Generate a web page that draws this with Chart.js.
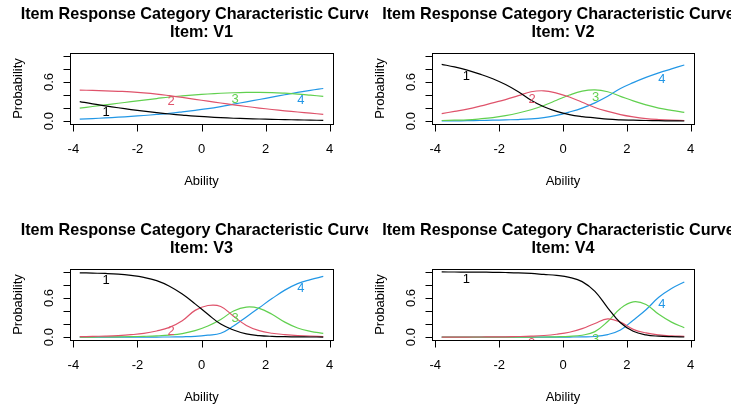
<!DOCTYPE html>
<html><head><meta charset="utf-8">
<script src="https://cdn.jsdelivr.net/npm/chart.js@4"></script>
<style>
html,body{margin:0;padding:0;background:#fff;width:731px;height:409px;overflow:hidden}
body{position:relative}
canvas{position:absolute}
</style></head>
<body>
<canvas id="c1" width="368" height="204" style="left:0px;top:0px"></canvas>
<canvas id="c2" width="366" height="204" style="left:365px;top:0px"></canvas>
<canvas id="c3" width="368" height="205" style="left:0px;top:204px"></canvas>
<canvas id="c4" width="366" height="205" style="left:365px;top:204px"></canvas>
<script>
// ---- data ----
const abilityGrid = [-3.8,-3.4,-3.0,-2.6,-2.2,-1.8,-1.4,-1.0,-0.6,-0.2,0.2,0.6,1.0,1.4,1.8,2.2,2.6,3.0,3.4,3.8];
const xTickValues = [-4,-2,0,2,4];
const xTickLabels = ['-4','-2','0','2','4'];
const yTickValues = [0,0.2,0.4,0.6,0.8,1.0];
const yTickLabels = ['0.0','','','0.6','',''];
const categories = ['1','2','3','4'];
const itemNames = ['V1','V2','V3','V4'];
const mainTitle = 'Item Response Category Characteristic Curves';
const xAxisTitle = 'Ability';
const yAxisTitle = 'Probability';

const v1Cat1 = [0.30,0.265,0.235,0.205,0.178,0.153,0.13,0.11,0.093,0.077,0.065,0.054,0.045,0.039,0.033,0.028,0.024,0.02,0.016,0.013];
const v1Cat2 = [0.475,0.471,0.465,0.457,0.448,0.434,0.415,0.39,0.363,0.335,0.306,0.278,0.25,0.225,0.201,0.179,0.159,0.14,0.122,0.105];
const v1Cat3 = [0.20,0.225,0.25,0.274,0.298,0.322,0.346,0.37,0.388,0.403,0.416,0.427,0.435,0.44,0.442,0.438,0.428,0.415,0.398,0.38];
const v1Cat4 = [0.03,0.04,0.05,0.061,0.073,0.087,0.103,0.12,0.142,0.166,0.192,0.224,0.26,0.296,0.332,0.368,0.404,0.44,0.472,0.50];

const v2Cat1 = [0.87,0.83,0.78,0.72,0.65,0.56,0.45,0.32,0.22,0.15,0.10,0.07,0.05,0.03,0.02,0.015,0.01,0.007,0.005,0.003];
const v2Cat2 = [0.115,0.15,0.185,0.23,0.28,0.33,0.39,0.45,0.465,0.43,0.37,0.29,0.21,0.15,0.10,0.065,0.04,0.025,0.015,0.01];
const v2Cat3 = [0.01,0.015,0.02,0.035,0.055,0.085,0.125,0.175,0.24,0.32,0.40,0.46,0.48,0.45,0.38,0.31,0.25,0.20,0.165,0.135];
const v2Cat4 = [0.003,0.005,0.007,0.01,0.015,0.02,0.025,0.035,0.055,0.09,0.14,0.20,0.28,0.38,0.50,0.59,0.67,0.74,0.80,0.86];

const v3Cat1 = [0.985,0.98,0.975,0.965,0.945,0.915,0.865,0.78,0.66,0.51,0.35,0.20,0.11,0.05,0.025,0.013,0.007,0.004,0.003,0.002];
const v3Cat2 = [0.008,0.012,0.017,0.025,0.038,0.058,0.095,0.15,0.25,0.41,0.485,0.47,0.32,0.18,0.10,0.06,0.04,0.025,0.015,0.01];
const v3Cat3 = [0.001,0.002,0.003,0.005,0.008,0.013,0.02,0.032,0.055,0.10,0.17,0.27,0.40,0.46,0.44,0.35,0.23,0.14,0.09,0.058];
const v3Cat4 = [0,0,0,0,0.001,0.001,0.002,0.003,0.006,0.012,0.03,0.06,0.17,0.31,0.45,0.59,0.72,0.82,0.88,0.93];

const v4Cat1 = [0.998,0.997,0.996,0.995,0.993,0.99,0.985,0.975,0.96,0.945,0.915,0.85,0.70,0.45,0.22,0.09,0.035,0.015,0.007,0.003];
const v4Cat2 = [0.001,0.001,0.002,0.003,0.004,0.006,0.01,0.016,0.026,0.045,0.075,0.13,0.21,0.28,0.23,0.12,0.065,0.035,0.02,0.012];
const v4Cat3 = [0,0,0,0,0,0,0.001,0.002,0.003,0.006,0.012,0.03,0.085,0.24,0.44,0.54,0.50,0.35,0.23,0.145];
const v4Cat4 = [0,0,0,0,0,0,0,0,0,0.001,0.002,0.004,0.01,0.04,0.11,0.26,0.42,0.61,0.745,0.845];

// category label positions (ability, probability)
const v1LabelX = [-2.98,-0.95,1.05,3.1];  const v1LabelY = [0.13,0.30,0.335,0.325];
const v2LabelX = [-3.03,-0.97,1.02,3.1];  const v2LabelY = [0.68,0.34,0.37,0.64];
const v3LabelX = [-2.98,-0.95,1.05,3.1];  const v3LabelY = [0.875,0.094,0.28,0.745];
const v4LabelX = [-3.03,-0.98,1.02,3.1];  const v4LabelY = [0.885,-0.09,-0.03,0.5];

// ---- assembly ----
const itemSeries = [
  [v1Cat1,v1Cat2,v1Cat3,v1Cat4],
  [v2Cat1,v2Cat2,v2Cat3,v2Cat4],
  [v3Cat1,v3Cat2,v3Cat3,v3Cat4],
  [v4Cat1,v4Cat2,v4Cat3,v4Cat4]
];
const itemLabelX = [v1LabelX,v2LabelX,v3LabelX,v4LabelX];
const itemLabelY = [v1LabelY,v2LabelY,v3LabelY,v4LabelY];

const catColors = ['#000000','#DF536B','#61D04F','#2297E6'];
const FONT = '"Liberation Sans", Arial, Helvetica, sans-serif';
const panelPads = [
  {left:70, top:53, right:35, bottom:80},
  {left:67, top:53, right:37, bottom:80},
  {left:70, top:65, right:35, bottom:69},
  {left:67, top:65, right:37, bottom:69}
];

const rPanelPlugin = {
  id: 'rPanel',
  afterDatasetsDraw(chart) {
    const opts = chart.options.plugins.rPanel;
    const ctx = chart.ctx;
    const {left, top, right, bottom} = chart.chartArea;
    const xs = chart.scales.x, ys = chart.scales.y;
    ctx.save();
    ctx.beginPath();
    ctx.rect(left, top, right - left, bottom - top);
    ctx.clip();
    ctx.font = '13px ' + FONT;
    ctx.textAlign = 'center';
    ctx.textBaseline = 'middle';
    opts.labelX.forEach((lx, i) => {
      ctx.fillStyle = catColors[i];
      ctx.fillText(categories[i], xs.getPixelForValue(lx), ys.getPixelForValue(opts.labelY[i]));
    });
    ctx.restore();
  },
  afterDraw(chart) {
    const opts = chart.options.plugins.rPanel;
    const ctx = chart.ctx;
    const {left, top, right, bottom} = chart.chartArea;
    const xs = chart.scales.x, ys = chart.scales.y;
    const L = Math.round(left) + 0.5, T = Math.round(top) + 0.5;
    const R = Math.round(right) + 0.5, B = Math.round(bottom) + 0.5;
    ctx.save();
    ctx.strokeStyle = '#000';
    ctx.lineWidth = 1;
    ctx.strokeRect(L, T, R - L, B - T);
    const tl = 7;
    ctx.beginPath();
    const x0 = Math.round(xs.getPixelForValue(xTickValues[0])) + 0.5;
    const x1 = Math.round(xs.getPixelForValue(xTickValues[xTickValues.length - 1])) + 0.5;
    ctx.moveTo(x0, B); ctx.lineTo(x1, B);
    xTickValues.forEach(v => {
      const px = Math.round(xs.getPixelForValue(v)) + 0.5;
      ctx.moveTo(px, B); ctx.lineTo(px, B + tl);
    });
    const y0 = Math.round(ys.getPixelForValue(yTickValues[0])) + 0.5;
    const y1 = Math.round(ys.getPixelForValue(yTickValues[yTickValues.length - 1])) + 0.5;
    ctx.moveTo(L, y0); ctx.lineTo(L, y1);
    yTickValues.forEach(v => {
      const py = Math.round(ys.getPixelForValue(v)) + 0.5;
      ctx.moveTo(L, py); ctx.lineTo(L - tl, py);
    });
    ctx.stroke();

    ctx.fillStyle = '#000';
    ctx.font = '13px ' + FONT;
    ctx.textAlign = 'center';
    ctx.textBaseline = 'alphabetic';
    xTickValues.forEach((v, i) => {
      ctx.fillText(xTickLabels[i], xs.getPixelForValue(v), bottom + 28.5);
    });
    const cx = (left + right) / 2, cy = (top + bottom) / 2;
    ctx.fillText(xAxisTitle, cx, bottom + 61);
    yTickValues.forEach((v, i) => {
      if (!yTickLabels[i]) return;
      ctx.save();
      ctx.translate(left - 17, ys.getPixelForValue(v));
      ctx.rotate(-Math.PI / 2);
      ctx.fillText(yTickLabels[i], 0, 0);
      ctx.restore();
    });
    ctx.save();
    ctx.translate(left - 48.5, cy);
    ctx.rotate(-Math.PI / 2);
    ctx.fillText(yAxisTitle, 0, 0);
    ctx.restore();
    ctx.font = 'bold 16.2px ' + FONT;
    ctx.fillText(mainTitle, cx, top - 34);
    ctx.fillText('Item: ' + opts.item, cx, top - 15.7);
    ctx.restore();
  }
};

itemNames.forEach((name, k) => {
  const series = itemSeries[k];
  new Chart(document.getElementById('c' + (k + 1)), {
    type: 'line',
    data: {
      datasets: categories.map((c, i) => ({
        label: c,
        data: abilityGrid.map((a, j) => ({x: a, y: series[i][j]})),
        borderColor: catColors[i],
        borderWidth: 1.2,
        pointRadius: 0,
        fill: false,
        tension: 0.4
      }))
    },
    options: {
      responsive: false,
      animation: false,
      devicePixelRatio: 1,
      events: [],
      layout: {padding: panelPads[k]},
      scales: {
        x: {type: 'linear', display: false, min: -4.104, max: 4.104},
        y: {type: 'linear', display: false, min: -0.0432, max: 1.0432}
      },
      plugins: {
        legend: {display: false},
        tooltip: {enabled: false},
        title: {display: false},
        rPanel: {item: name, labelX: itemLabelX[k], labelY: itemLabelY[k]}
      }
    },
    plugins: [rPanelPlugin]
  });
});
</script>
</body></html>
